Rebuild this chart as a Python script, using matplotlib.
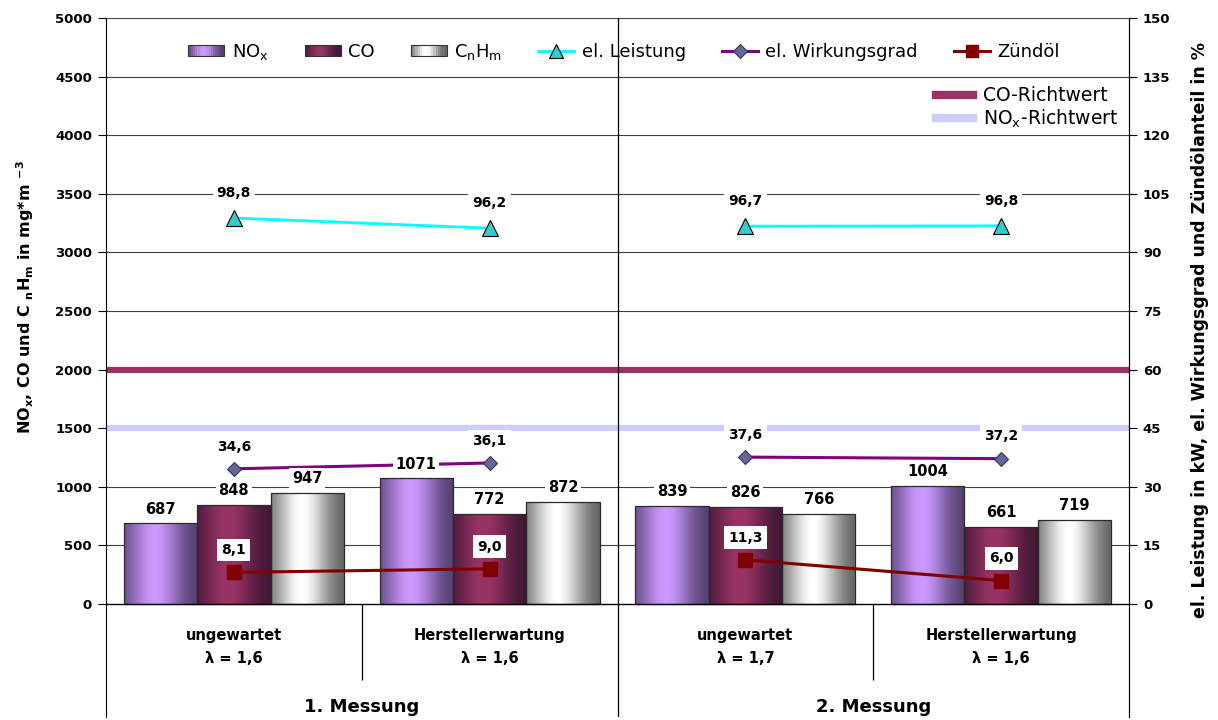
import numpy as np
import matplotlib
matplotlib.use("Agg")
import matplotlib.pyplot as plt
from matplotlib.lines import Line2D
from matplotlib.patches import Patch, Rectangle
from matplotlib.legend_handler import HandlerBase
from matplotlib.colors import to_rgb

categories = ["ungewartet", "Herstellerwartung", "ungewartet", "Herstellerwartung"]
lambdas = ["λ = 1,6", "λ = 1,6", "λ = 1,7", "λ = 1,6"]
messungen = ["1. Messung", "2. Messung"]

nox = [687, 1071, 839, 1004]
co = [848, 772, 826, 661]
cnhm = [947, 872, 766, 719]

leistung = [98.8, 96.2, 96.7, 96.8]
wirkungsgrad = [34.6, 36.1, 37.6, 37.2]
zuendoel = [8.1, 9.0, 11.3, 6.0]

co_richtwert = 2000
nox_richtwert = 1500

left_ticks = list(range(0, 5001, 500))
right_ticks = list(range(0, 151, 15))

# (dark, light) pairs for the cylinder-like shading
bar_colors = {
    "nox": ("#4a3a66", "#cc99ff"),
    "co": ("#3a1530", "#993366"),
    "cnhm": ("#5a5a5a", "#ffffff"),
}


def komma(v):
    return f"{v:.1f}".replace(".", ",")


def shade_row(dark, light, n=120):
    t = np.linspace(0, 1, n)
    w = np.exp(-((t - 0.42) / 0.36) ** 2)
    d = np.array(to_rgb(dark))
    l = np.array(to_rgb(light))
    return d[None, :] * (1 - w[:, None]) + l[None, :] * w[:, None]


class GradientHandler(HandlerBase):
    def __init__(self, dark, light):
        super().__init__()
        self.cols = shade_row(dark, light, 16)

    def create_artists(self, legend, orig_handle, xdescent, ydescent,
                       width, height, fontsize, trans):
        arts = []
        n = len(self.cols)
        for k, c in enumerate(self.cols):
            arts.append(Rectangle((-xdescent + k * width / n, -ydescent), width / n + 0.3,
                                  height, facecolor=c, edgecolor="none", transform=trans))
        arts.append(Rectangle((-xdescent, -ydescent), width, height, facecolor="none",
                              edgecolor="#333333", lw=0.8, transform=trans))
        return arts


fig = plt.figure(figsize=(12.18, 7.2), dpi=100)
L, R, T, B = 106, 1129, 18, 717
ax = fig.add_axes([L / 1218, (720 - B) / 720, (R - L) / 1218, (B - T) / 720])
ax2 = ax.twinx()

# pixel 604 is the zero line, pixel 18 is 5000
ymin = -(B - 604) / (604 - T) * 5000
ax.set_xlim(-0.5, 3.5)
ax.set_ylim(ymin, 5000)
ax2.set_ylim(ymin / 5000 * 150, 150)

x = np.arange(len(categories))
bw = 0.287

ax.set_axisbelow(True)
for t in left_ticks[1:]:
    ax.axhline(t, color="#404040", lw=0.8, zorder=0.5)
ax.axhline(0, color="black", lw=1.0, zorder=2.5)

ax.axhline(co_richtwert, color="#993366", lw=4.5, zorder=1)
ax.axhline(nox_richtwert, color="#ccccff", lw=4.5, zorder=1)

for vals, key, off in [(nox, "nox", -bw), (co, "co", 0), (cnhm, "cnhm", bw)]:
    bars = ax.bar(x + off, vals, bw, facecolor="none", edgecolor="#2a2a2a",
                  linewidth=0.9, zorder=2.2)
    img = shade_row(*bar_colors[key])[None, :, :]
    for b in bars:
        bx, by = b.get_x(), b.get_y()
        im = ax.imshow(img, extent=[bx, bx + b.get_width(), by, by + b.get_height()],
                       aspect="auto", interpolation="bilinear", zorder=2)
        im.set_clip_path(b)

ax.set_xlim(-0.5, 3.5)
ax.set_ylim(ymin, 5000)

# lines, one segment per Messung
for idx in ([0, 1], [2, 3]):
    xi = x[idx]
    ax2.plot(xi, [leistung[i] for i in idx], color="#00ffff", lw=2, marker="^",
             ms=11, mfc="#33cccc", mec="black", mew=0.8, zorder=3)
    ax2.plot(xi, [wirkungsgrad[i] for i in idx], color="#800080", lw=2.2, marker="D",
             ms=7.5, mfc="#666699", mec="#333366", mew=0.8, zorder=3)
    ax2.plot(xi, [zuendoel[i] for i in idx], color="#800000", lw=2.2, marker="s",
             ms=10, mfc="#800000", mec="#800000", zorder=3)

box = dict(facecolor="white", edgecolor="none", pad=2)
for vals, off in [(nox, -bw), (co, 0), (cnhm, bw)]:
    for i, v in enumerate(vals):
        ax2.annotate(str(v), xy=(x[i] + off, v), xycoords=ax.transData,
                     xytext=(0, 5), textcoords="offset points", ha="center",
                     va="bottom", fontsize=10.5, fontweight="bold", bbox=box, zorder=10)

for vals, dy in [(leistung, 18), (wirkungsgrad, 16), (zuendoel, 16)]:
    for i, v in enumerate(vals):
        ax2.annotate(komma(v), xy=(x[i], v), xytext=(0, dy), textcoords="offset points",
                     ha="center", va="center", fontsize=10, fontweight="bold",
                     bbox=dict(facecolor="white", edgecolor="none", pad=3), zorder=10)

# category area below the zero line
ax.axvline(1.5, color="black", lw=0.9)
ax.vlines([0.5, 2.5], -648, 0, colors="black", lw=0.9)
for i in range(len(categories)):
    ax.text(x[i], -273, categories[i], ha="center", va="center",
            fontsize=10.5, fontweight="bold")
    ax.text(x[i], -461, lambdas[i], ha="center", va="center",
            fontsize=10.5, fontweight="bold")
for j, m in enumerate(messungen):
    ax.text(0.5 + 2 * j, -879, m, ha="center", va="center",
            fontsize=13, fontweight="bold")

ax.set_xticks([])
ax.set_yticks(left_ticks)
ax2.set_yticks(right_ticks)
for a in (ax, ax2):
    a.spines["top"].set_visible(False)
    a.spines["bottom"].set_visible(False)
    a.tick_params(axis="y", direction="out", length=6, width=0.8,
                  labelsize=9.5, pad=4)
    for lab in a.get_yticklabels():
        lab.set_fontweight("bold")
ax2.spines["left"].set_visible(False)

fig.text(25 / 1218, 1 - 297 / 720,
         r"NO$_\mathbf{x}$, CO und C $_\mathbf{n}$H$_\mathbf{m}$ in mg*m $^\mathbf{-3}$",
         rotation=90, ha="center", va="center", fontsize=11.5, fontweight="bold")
fig.text(1200 / 1218, 1 - 330 / 720,
         "el. Leistung in kW, el. Wirkungsgrad und Zündölanteil in %",
         rotation=90, ha="center", va="center", fontsize=12.5, fontweight="bold")

p_nox, p_co, p_cnhm = Patch(), Patch(), Patch()
handles = [
    p_nox, p_co, p_cnhm,
    Line2D([], [], color="#00ffff", lw=2, marker="^", ms=10, mfc="#33cccc", mec="black", mew=0.8),
    Line2D([], [], color="#800080", lw=2.2, marker="D", ms=7, mfc="#666699", mec="#333366", mew=0.8),
    Line2D([], [], color="#800000", lw=2.2, marker="s", ms=9, mfc="#800000", mec="#800000"),
]
labels = [r"NO$_\mathregular{x}$", "CO", r"C$_\mathregular{n}$H$_\mathregular{m}$",
          "el. Leistung", "el. Wirkungsgrad", "Zündöl"]
hmap = {p_nox: GradientHandler(*bar_colors["nox"]),
        p_co: GradientHandler(*bar_colors["co"]),
        p_cnhm: GradientHandler(*bar_colors["cnhm"])}
fig.legend(handles, labels, loc="center", bbox_to_anchor=(624 / 1218, 1 - 52 / 720),
           ncol=6, frameon=False, fontsize=13, handlelength=2.0, handleheight=0.5,
           handletextpad=0.4, columnspacing=2.0, borderpad=0, handler_map=hmap)

handles2 = [Line2D([], [], color="#993366", lw=6), Line2D([], [], color="#ccccff", lw=6)]
labels2 = ["CO-Richtwert", r"NO$_\mathregular{x}$-Richtwert"]
fig.legend(handles2, labels2, loc="center left", bbox_to_anchor=(936 / 1218, 1 - 108 / 720),
           frameon=False, fontsize=13.5, handlelength=2.0, handletextpad=0.5,
           labelspacing=0.1, borderpad=0, borderaxespad=0)

fig.savefig("out.png", dpi=100)
